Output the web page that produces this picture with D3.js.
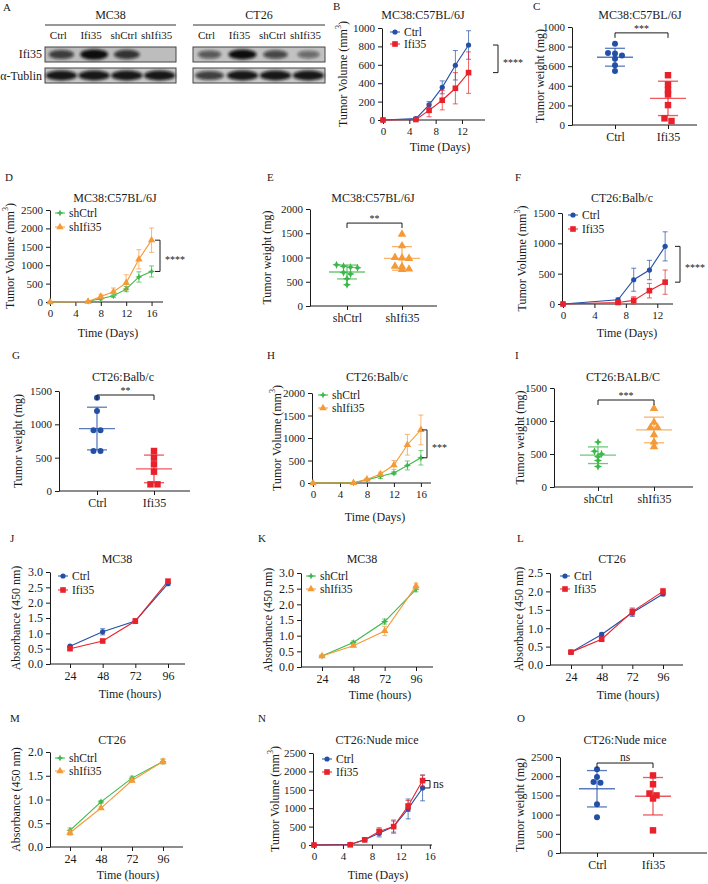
<!DOCTYPE html>
<html><head><meta charset="utf-8">
<script src="https://cdn.jsdelivr.net/npm/d3@7"></script>
<style>body{margin:0;background:#fff}</style>
</head><body><svg id="fig" width="708" height="884"></svg>
<script>
// ---------------- DATA ----------------
// Panel A (western blot band intensities, lanes Ctrl, Ifi35, shCtrl, shIfi35)
const blotLanes = ["Ctrl", "Ifi35", "shCtrl", "shIfi35"];
const mc38Ifi35 = [0.75, 1.0, 0.8, 0.0];
const mc38Tublin = [0.95, 0.95, 0.95, 0.95];
const ct26Ifi35 = [0.6, 1.0, 0.7, 0.5];
const ct26Tublin = [0.75, 0.95, 0.95, 0.95];

// Panel B
const B_days = [0, 5, 7, 9, 11, 13];
const B_ctrl = [0, 15, 165, 355, 595, 815];
const B_ctrlErr = [0, 8, 35, 70, 160, 155];
const B_ifi = [0, 5, 105, 215, 345, 515];
const B_ifiErr = [0, 5, 70, 105, 170, 225];
// Panel C
const C_ctrl = [830, 735, 730, 710, 675, 610, 550];
const C_ifi = [508, 413, 356, 312, 203, 68, 41];
// Panel D
const D_days = [0, 6, 8, 10, 12, 14, 16];
const D_shCtrl = [0, 20, 90, 170, 350, 680, 830];
const D_shCtrlErr = [0, 5, 30, 50, 70, 140, 150];
const D_shIfi = [0, 10, 150, 280, 520, 1160, 1680];
const D_shIfiErr = [0, 5, 60, 100, 220, 260, 330];
// Panel E
const E_shCtrl = [850, 820, 800, 790, 690, 660, 560, 440];
const E_shIfi = [1480, 1240, 1000, 990, 980, 820, 810, 760, 750];
// Panel F
const F_days = [0, 7, 9, 11, 13];
const F_ctrl = [0, 70, 400, 560, 950];
const F_ctrlErr = [0, 30, 190, 160, 240];
const F_ifi = [0, 25, 60, 220, 360];
const F_ifiErr = [0, 10, 60, 120, 200];
// Panel G
const G_ctrl = [1400, 1200, 910, 910, 600, 600];
const G_ifi = [600, 500, 400, 290, 100, 100];
// Panel H
const H_days = [0, 6, 8, 10, 12, 14, 16];
const H_shCtrl = [0, 5, 70, 150, 220, 390, 560];
const H_shCtrlErr = [0, 0, 20, 50, 30, 100, 160];
const H_shIfi = [0, 5, 80, 200, 400, 850, 1180];
const H_shIfiErr = [0, 0, 20, 40, 100, 230, 330];
// Panel I
const I_shCtrl = [680, 540, 500, 460, 400, 310];
const I_shIfi = [1190, 980, 900, 900, 790, 680, 610];
// Panels J-M (CCK-8)
const hours = ["24", "48", "72", "96"];
const J_ctrl = [0.58, 1.05, 1.40, 2.62];
const J_ctrlErr = [0.03, 0.10, 0.04, 0.04];
const J_ifi = [0.50, 0.75, 1.40, 2.70];
const J_ifiErr = [0.04, 0.04, 0.08, 0.06];
const K_shCtrl = [0.35, 0.78, 1.45, 2.48];
const K_shCtrlErr = [0.03, 0.05, 0.08, 0.08];
const K_shIfi = [0.35, 0.68, 1.15, 2.58];
const K_shIfiErr = [0.03, 0.04, 0.15, 0.10];
const L_ctrl = [0.35, 0.83, 1.42, 1.93];
const L_ctrlErr = [0.03, 0.04, 0.10, 0.05];
const L_ifi = [0.35, 0.70, 1.45, 2.00];
const L_ifiErr = [0.04, 0.05, 0.10, 0.08];
const M_shCtrl = [0.35, 0.95, 1.45, 1.80];
const M_shCtrlErr = [0.05, 0.03, 0.04, 0.05];
const M_shIfi = [0.30, 0.82, 1.40, 1.80];
const M_shIfiErr = [0.05, 0.03, 0.03, 0.05];
// Panel N
const N_days = [0, 5, 7, 9, 11, 13, 15];
const N_ctrl = [0, 20, 140, 320, 500, 980, 1550];
const N_ctrlErr = [0, 10, 30, 100, 150, 270, 350];
const N_ifi = [0, 5, 140, 370, 500, 1060, 1750];
const N_ifiErr = [0, 5, 20, 100, 180, 150, 150];
// Panel O
const O_ctrl = [2180, 1980, 1850, 1830, 1270, 930];
const O_ifi = [2020, 1790, 1550, 1500, 1420, 590];

// ---------------- STYLE ----------------
const FONT = '"Liberation Serif","Times New Roman",serif';
const BLUE = "#2350a6", RED = "#e8212b", GREEN = "#3cb84a", ORANGE = "#f59a38";
const INK = "#1a1a1a";
const svg = d3.select("#fig").attr("font-family", FONT);

function txt(g, x, y, s, size, anchor) {
  return g.append("text").attr("x", x).attr("y", y).attr("font-size", size || 12)
    .attr("text-anchor", anchor || "middle").attr("fill", INK).text(s);
}
function panelLabel(x, y, s) { txt(svg, x, y, s, 11, "start"); }

function yLabel(g, x, cy, s, sup) {
  const t = g.append("text").attr("transform", `translate(${x},${cy}) rotate(-90)`)
    .attr("text-anchor", "middle").attr("dominant-baseline", "central")
    .attr("font-size", 12).attr("fill", INK);
  if (sup) {
    t.append("tspan").text(s);
    t.append("tspan").attr("font-size", 8).attr("dy", -5).text("3");
    t.append("tspan").attr("dy", 5).text(")");
  } else t.text(s);
}

function star4(sz) {
  const a = sz, b = sz * 0.3;
  return `M0,${-a}L${b},${-b}L${a},0L${b},${b}L0,${a}L${-b},${b}L${-a},0L${-b},${-b}Z`;
}
function marker(g, shape, cx, cy, color, k) {
  k = k || 1;
  if (shape === "circle") g.append("circle").attr("cx", cx).attr("cy", cy).attr("r", 2.6 * k).attr("fill", color);
  else if (shape === "square") g.append("rect").attr("x", cx - 2.8 * k).attr("y", cy - 2.8 * k).attr("width", 5.6 * k).attr("height", 5.6 * k).attr("fill", color);
  else if (shape === "triangle") g.append("path").attr("d", d3.symbol(d3.symbolTriangle, 24 * k * k)()).attr("transform", `translate(${cx},${cy})`).attr("fill", color);
  else g.append("path").attr("d", star4(3.6 * k)).attr("transform", `translate(${cx},${cy})`).attr("fill", color);
}

function styleAxis(sel, fs) {
  sel.attr("font-family", FONT).attr("font-size", fs);
  sel.selectAll("line,path").attr("stroke", INK).attr("stroke-width", 1);
  sel.selectAll("text").attr("fill", INK);
}

// ---------------- LINE CHART ----------------
function lineChart(c, series) {
  const g = svg.append("g");
  const x = c.x;
  const y = d3.scaleLinear().domain(c.yDomain).range(c.yRange);
  const xa = g.append("g").attr("transform", `translate(0,${c.yRange[0]})`)
    .call(d3.axisBottom(x).tickValues(c.xTicks).tickSize(4).tickSizeOuter(0));
  xa.select(".domain").remove();
  styleAxis(xa, c.xfs || 11);
  g.append("line").attr("x1", c.xAxis[0]).attr("x2", c.xAxis[1]).attr("y1", c.yRange[0]).attr("y2", c.yRange[0]).attr("stroke", INK);
  const ya = g.append("g").attr("transform", `translate(${c.xAxis[0]},0)`)
    .call(d3.axisLeft(y).tickValues(c.yTicks).tickSize(4).tickSizeOuter(0).tickFormat(c.yFmt || d3.format("d")));
  styleAxis(ya, c.yfs || 11);

  series.forEach(s => {
    const pts = s.xs.map((v, i) => ({ x: x(v), m: s.m[i], e: s.e[i] }));
    const eg = g.append("g").attr("stroke", s.color).attr("stroke-opacity", 0.7).attr("stroke-width", 1);
    pts.forEach(p => {
      if (p.e > 0) {
        const y1 = y(p.m - p.e), y2 = y(p.m + p.e);
        eg.append("line").attr("x1", p.x).attr("x2", p.x).attr("y1", y1).attr("y2", y2);
        eg.append("line").attr("x1", p.x - 2.5).attr("x2", p.x + 2.5).attr("y1", y1).attr("y2", y1);
        eg.append("line").attr("x1", p.x - 2.5).attr("x2", p.x + 2.5).attr("y1", y2).attr("y2", y2);
      }
    });
    g.append("path").datum(pts).attr("fill", "none").attr("stroke", s.color).attr("stroke-width", 1.1)
      .attr("d", d3.line().x(p => p.x).y(p => y(p.m)));
    pts.forEach(p => marker(g, s.shape, p.x, y(p.m), s.color));
  });

  // legend
  series.forEach((s, i) => {
    const ly = c.legend[1] + i * c.legend[2];
    g.append("line").attr("x1", c.legend[0] - 5).attr("x2", c.legend[0] + 5).attr("y1", ly).attr("y2", ly).attr("stroke", s.color);
    marker(g, s.shape, c.legend[0], ly, s.color);
    txt(g, c.legend[0] + 9, ly + 4, s.name, 11.5, "start");
  });

  // title / x title / y label
  txt(g, c.title[0], c.title[1], c.title[2], 12);
  txt(g, c.xTitle[0], c.xTitle[1], c.xTitle[2], 12);
  yLabel(g, c.yLab[0], (c.yRange[0] + c.yRange[1]) / 2, c.yLab[1], c.yLab[2]);

  // significance bracket
  if (c.sig) {
    const n = series[0].m.length - 1;
    const a = y(series[0].m[n]), b = y(series[1].m[n]);
    const top = Math.min(a, b), bot = Math.max(a, b), bx = c.sig[0];
    g.append("path").attr("fill", "none").attr("stroke", INK)
      .attr("d", `M${bx - 5},${top}H${bx}V${bot}H${bx - 5}`);
    const ns = c.sig[1] === "ns";
    txt(g, bx + (ns ? 3 : 5), (top + bot) / 2 + (ns ? 4 : 7), c.sig[1], ns ? 12 : 10, "start");
  }
}

// ---------------- SCATTER (dot plot) ----------------
function dotPlot(c, groups) {
  const g = svg.append("g");
  const y = d3.scaleLinear().domain(c.yDomain).range(c.yRange);
  const x = d3.scalePoint().domain(groups.map(d => d.name)).range(c.cats);
  const xa = g.append("g").attr("transform", `translate(0,${c.yRange[0]})`)
    .call(d3.axisBottom(x).tickSize(4).tickSizeOuter(0));
  xa.select(".domain").remove();
  styleAxis(xa, 12);
  g.append("line").attr("x1", c.xAxis[0]).attr("x2", c.xAxis[1]).attr("y1", c.yRange[0]).attr("y2", c.yRange[0]).attr("stroke", INK);
  const ya = g.append("g").attr("transform", `translate(${c.xAxis[0]},0)`)
    .call(d3.axisLeft(y).tickValues(c.yTicks).tickSize(4).tickSizeOuter(0).tickFormat(d3.format("d")));
  styleAxis(ya, 11);

  groups.forEach(gr => {
    const cx = x(gr.name);
    const mean = d3.mean(gr.values), sd = d3.deviation(gr.values);
    const sorted = gr.values.slice().sort((a, b) => b - a);
    const rows = [];
    sorted.forEach(v => {
      const last = rows[rows.length - 1];
      if (last && Math.abs(y(last[0]) - y(v)) < 3) last.push(v); else rows.push([v]);
    });
    rows.forEach(r => r.forEach((v, i) => {
      marker(g, gr.shape, cx + (i - (r.length - 1) / 2) * 7, y(v), gr.color, 1.15);
    }));
    const lg = g.append("g").attr("stroke", gr.color).attr("stroke-opacity", 0.75).attr("stroke-width", 1.3);
    lg.append("line").attr("x1", cx - 18).attr("x2", cx + 18).attr("y1", y(mean)).attr("y2", y(mean));
    lg.append("line").attr("x1", cx).attr("x2", cx).attr("y1", y(mean - sd)).attr("y2", y(mean + sd));
    lg.append("line").attr("x1", cx - 10).attr("x2", cx + 10).attr("y1", y(mean - sd)).attr("y2", y(mean - sd));
    lg.append("line").attr("x1", cx - 10).attr("x2", cx + 10).attr("y1", y(mean + sd)).attr("y2", y(mean + sd));
  });

  txt(g, c.title[0], c.title[1], c.title[2], 12);
  yLabel(g, c.yLab[0], (c.yRange[0] + c.yRange[1]) / 2, c.yLab[1]);
  const by = y(c.sig[0]), x1 = c.cats[0], x2 = c.cats[1];
  g.append("path").attr("fill", "none").attr("stroke", INK).attr("d", `M${x1},${by + 5}V${by}H${x2}V${by + 5}`);
  const ns = c.sig[1] === "ns";
  txt(g, (x1 + x2) / 2, by - (ns ? 2 : 1), c.sig[1], ns ? 11.5 : 10);
}

// ---------------- WESTERN BLOT ----------------
const defs = svg.append("defs");
defs.append("filter").attr("id", "blur").attr("x", "-50%").attr("y", "-50%").attr("width", "200%").attr("height", "200%")
  .append("feGaussianBlur").attr("stdDeviation", 1.6);

function blot(c, rows) {
  const g = svg.append("g");
  const xs = d3.scaleBand().domain(blotLanes).range([c.x0, c.x1]);
  txt(g, (c.x0 + c.x1) / 2, 19, c.name, 12);
  g.append("line").attr("x1", c.x0).attr("x2", c.x1).attr("y1", 25).attr("y2", 25).attr("stroke", "#333");
  blotLanes.forEach(l => txt(g, xs(l) + xs.bandwidth() / 2 - 3, 39, l, 11));
  rows.forEach(r => {
    g.append("rect").attr("x", c.x0).attr("y", r.y0).attr("width", c.x1 - c.x0).attr("height", r.y1 - r.y0)
      .attr("fill", r.bg).attr("stroke", "#444").attr("stroke-width", 1);
    r.vals.forEach((v, i) => {
      if (v <= 0) return;
      const cx = xs(blotLanes[i]) + xs.bandwidth() / 2;
      g.append("ellipse").attr("cx", cx).attr("cy", (r.y0 + r.y1) / 2)
        .attr("rx", r.rx * (0.6 + 0.4 * v)).attr("ry", r.ry * (0.55 + 0.45 * v))
        .attr("fill", "#0d0d0d").attr("fill-opacity", v).attr("filter", "url(#blur)");
    });
  });
}

panelLabel(3, 11, "A");
blot({ x0: 45, x1: 176, name: "MC38" }, [
  { y0: 47, y1: 62, bg: "#bdbdbd", vals: mc38Ifi35, rx: 14, ry: 5.2 },
  { y0: 68, y1: 83, bg: "#c8c8c8", vals: mc38Tublin, rx: 16, ry: 5 }
]);
blot({ x0: 193, x1: 325, name: "CT26" }, [
  { y0: 47, y1: 62, bg: "#c2c2c2", vals: ct26Ifi35, rx: 14, ry: 5 },
  { y0: 68, y1: 83, bg: "#cacaca", vals: ct26Tublin, rx: 16, ry: 5 }
]);
txt(svg, 42, 58, "Ifi35", 12, "end");
txt(svg, 42, 80, "α-Tublin", 12, "end");

// ---------------- PANELS ----------------
const linTicks = (a, b, s) => d3.range(a, b + s / 2, s);

panelLabel(333, 10, "B");
lineChart({
  x: d3.scaleLinear().domain([0, 15.5]).range([383, 485]), xAxis: [382, 485], xTicks: [0, 4, 8, 12],
  yDomain: [0, 1000], yRange: [120, 28], yTicks: linTicks(0, 1000, 200),
  title: [423, 19, "MC38:C57BL/6J"], xTitle: [440, 151, "Time (Days)"], yLab: [343, "Tumor Volume (mm", true],
  legend: [395, 32, 12], sig: [498, "****"]
}, [
  { name: "Ctrl", xs: B_days, m: B_ctrl, e: B_ctrlErr, color: BLUE, shape: "circle" },
  { name: "Ifi35", xs: B_days, m: B_ifi, e: B_ifiErr, color: RED, shape: "square" }
]);

panelLabel(533, 10, "C");
dotPlot({
  yDomain: [0, 1000], yRange: [125, 27], yTicks: linTicks(0, 1000, 200), xAxis: [572, 697], cats: [615, 668],
  title: [640, 19, "MC38:C57BL/6J"], yLab: [540, "Tumor weight (mg)"], sig: [940, "***"]
}, [
  { name: "Ctrl", values: C_ctrl, color: BLUE, shape: "circle" },
  { name: "Ifi35", values: C_ifi, color: RED, shape: "square" }
]);

panelLabel(5, 181, "D");
lineChart({
  x: d3.scaleLinear().domain([0, 17.8]).range([50, 163]), xAxis: [50, 163], xTicks: linTicks(0, 16, 4),
  yDomain: [0, 2500], yRange: [302, 210], yTicks: linTicks(0, 2500, 500),
  title: [115, 202, "MC38:C57BL/6J"], xTitle: [108, 337, "Time (Days)"], yLab: [10, "Tumor Volume (mm", true],
  legend: [60, 213, 14], sig: [160, "****"]
}, [
  { name: "shCtrl", xs: D_days, m: D_shCtrl, e: D_shCtrlErr, color: GREEN, shape: "star" },
  { name: "shIfi35", xs: D_days, m: D_shIfi, e: D_shIfiErr, color: ORANGE, shape: "triangle" }
]);

panelLabel(267, 181, "E");
dotPlot({
  yDomain: [0, 2000], yRange: [306, 209], yTicks: linTicks(0, 2000, 500), xAxis: [310, 437], cats: [347, 402],
  title: [373, 202, "MC38:C57BL/6J"], yLab: [267, "Tumor weight (mg)"], sig: [1710, "**"]
}, [
  { name: "shCtrl", values: E_shCtrl, color: GREEN, shape: "star" },
  { name: "shIfi35", values: E_shIfi, color: ORANGE, shape: "triangle" }
]);

panelLabel(515, 181, "F");
lineChart({
  x: d3.scaleLinear().domain([0, 14]).range([563, 673]), xAxis: [562, 673], xTicks: [0, 4, 8, 12],
  yDomain: [0, 1500], yRange: [304, 213], yTicks: linTicks(0, 1500, 500),
  title: [622, 202, "CT26:Balb/c"], xTitle: [627, 337, "Time (Days)"], yLab: [522, "Tumor Volume (mm", true],
  legend: [573, 215, 14], sig: [680, "****"]
}, [
  { name: "Ctrl", xs: F_days, m: F_ctrl, e: F_ctrlErr, color: BLUE, shape: "circle" },
  { name: "Ifi35", xs: F_days, m: F_ifi, e: F_ifiErr, color: RED, shape: "square" }
]);

panelLabel(12, 359, "G");
dotPlot({
  yDomain: [0, 1500], yRange: [491, 391], yTicks: linTicks(0, 1500, 500), xAxis: [59, 190], cats: [97, 154],
  title: [123, 381, "CT26:Balb/c"], yLab: [18, "Tumor weight (mg)"], sig: [1440, "**"]
}, [
  { name: "Ctrl", values: G_ctrl, color: BLUE, shape: "circle" },
  { name: "Ifi35", values: G_ifi, color: RED, shape: "square" }
]);

panelLabel(267, 359, "H");
lineChart({
  x: d3.scaleLinear().domain([0, 17.5]).range([313, 431]), xAxis: [312, 431], xTicks: linTicks(0, 16, 4),
  yDomain: [0, 2000], yRange: [483, 393], yTicks: linTicks(0, 2000, 500),
  title: [377, 381, "CT26:Balb/c"], xTitle: [375, 521, "Time (Days)"], yLab: [277, "Tumor Volume (mm", true],
  legend: [323, 395, 13], sig: [427, "***"]
}, [
  { name: "shCtrl", xs: H_days, m: H_shCtrl, e: H_shCtrlErr, color: GREEN, shape: "star" },
  { name: "shIfi35", xs: H_days, m: H_shIfi, e: H_shIfiErr, color: ORANGE, shape: "triangle" }
]);

panelLabel(515, 359, "I");
dotPlot({
  yDomain: [0, 1500], yRange: [487, 388], yTicks: linTicks(0, 1500, 500), xAxis: [554, 693], cats: [598, 654],
  title: [623, 381, "CT26:BALB/C"], yLab: [520, "Tumor weight (mg)"], sig: [1318, "***"]
}, [
  { name: "shCtrl", values: I_shCtrl, color: GREEN, shape: "star" },
  { name: "shIfi35", values: I_shIfi, color: ORANGE, shape: "triangle" }
]);

const f1 = d3.format(".1f");
panelLabel(10, 542, "J");
lineChart({
  x: d3.scalePoint().domain(hours).range([70, 168]), xAxis: [50, 185], xTicks: hours, xfs: 12, yfs: 12,
  yDomain: [0, 3], yRange: [664, 572], yTicks: linTicks(0, 3, 0.5), yFmt: f1,
  title: [117, 563, "MC38"], xTitle: [130, 698, "Time (hours)"], yLab: [16, "Absorbance (450 nm)"],
  legend: [63, 576, 14]
}, [
  { name: "Ctrl", xs: hours, m: J_ctrl, e: J_ctrlErr, color: BLUE, shape: "circle" },
  { name: "Ifi35", xs: hours, m: J_ifi, e: J_ifiErr, color: RED, shape: "square" }
]);

panelLabel(258, 542, "K");
lineChart({
  x: d3.scalePoint().domain(hours).range([322, 416]), xAxis: [301, 433], xTicks: hours, xfs: 12, yfs: 12,
  yDomain: [0, 3], yRange: [667, 573], yTicks: linTicks(0, 3, 0.5), yFmt: f1,
  title: [362, 563, "MC38"], xTitle: [380, 699, "Time (hours)"], yLab: [268, "Absorbance (450 nm)"],
  legend: [311, 576, 13]
}, [
  { name: "shCtrl", xs: hours, m: K_shCtrl, e: K_shCtrlErr, color: GREEN, shape: "star" },
  { name: "shIfi35", xs: hours, m: K_shIfi, e: K_shIfiErr, color: ORANGE, shape: "triangle" }
]);

panelLabel(517, 542, "L");
lineChart({
  x: d3.scalePoint().domain(hours).range([571, 663]), xAxis: [550, 683], xTicks: hours, xfs: 12, yfs: 12,
  yDomain: [0, 2.5], yRange: [665, 573], yTicks: linTicks(0, 2.5, 0.5), yFmt: f1,
  title: [612, 563, "CT26"], xTitle: [628, 699, "Time (hours)"], yLab: [519, "Absorbance (450 nm)"],
  legend: [565, 576, 13]
}, [
  { name: "Ctrl", xs: hours, m: L_ctrl, e: L_ctrlErr, color: BLUE, shape: "circle" },
  { name: "Ifi35", xs: hours, m: L_ifi, e: L_ifiErr, color: RED, shape: "square" }
]);

panelLabel(10, 722, "M");
lineChart({
  x: d3.scalePoint().domain(hours).range([70, 163]), xAxis: [50, 183], xTicks: hours, xfs: 12, yfs: 12,
  yDomain: [0, 2], yRange: [847, 752], yTicks: linTicks(0, 2, 0.5), yFmt: f1,
  title: [112, 744, "CT26"], xTitle: [128, 879, "Time (hours)"], yLab: [16, "Absorbance (450 nm)"],
  legend: [60, 758, 13]
}, [
  { name: "shCtrl", xs: hours, m: M_shCtrl, e: M_shCtrlErr, color: GREEN, shape: "star" },
  { name: "shIfi35", xs: hours, m: M_shIfi, e: M_shIfiErr, color: ORANGE, shape: "triangle" }
]);

panelLabel(258, 722, "N");
lineChart({
  x: d3.scaleLinear().domain([0, 16.3]).range([314, 432]), xAxis: [313, 432], xTicks: linTicks(0, 16, 4),
  yDomain: [0, 2500], yRange: [845, 753], yTicks: linTicks(0, 2500, 500),
  title: [377, 744, "CT26:Nude mice"], xTitle: [378, 879, "Time (Days)"], yLab: [275, "Tumor Volume (mm", true],
  legend: [327, 759, 13], sig: [430, "ns"]
}, [
  { name: "Ctrl", xs: N_days, m: N_ctrl, e: N_ctrlErr, color: BLUE, shape: "circle" },
  { name: "Ifi35", xs: N_days, m: N_ifi, e: N_ifiErr, color: RED, shape: "square" }
]);

panelLabel(517, 722, "O");
dotPlot({
  yDomain: [0, 2500], yRange: [853, 757], yTicks: linTicks(0, 2500, 500), xAxis: [560, 707], cats: [597, 653],
  title: [625, 744, "CT26:Nude mice"], yLab: [520, "Tumor weight (mg)"], sig: [2343, "ns"]
}, [
  { name: "Ctrl", values: O_ctrl, color: BLUE, shape: "circle" },
  { name: "Ifi35", values: O_ifi, color: RED, shape: "square" }
]);
</script></body></html>
